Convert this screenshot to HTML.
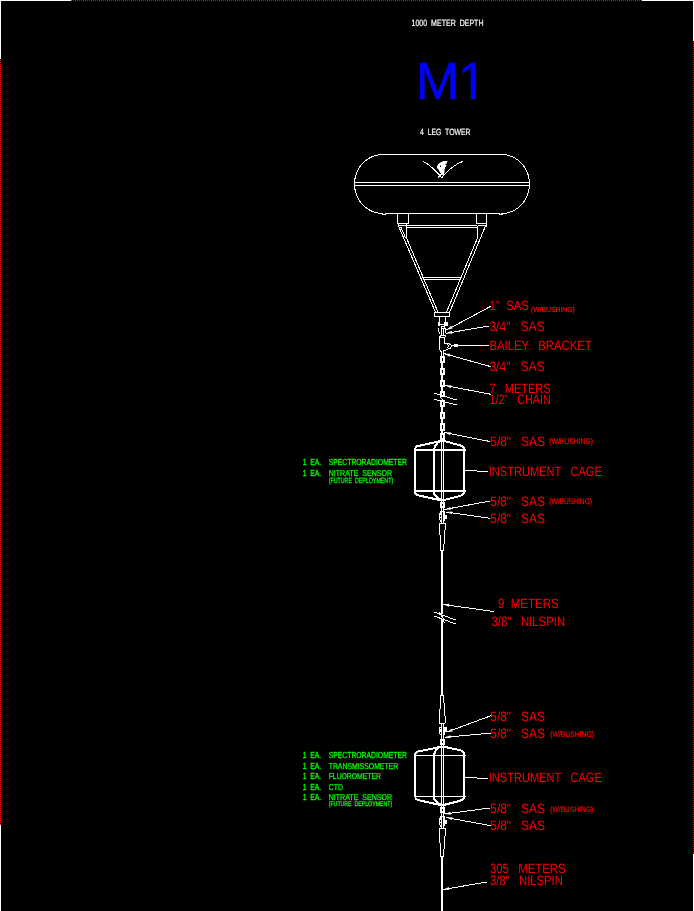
<!DOCTYPE html>
<html lang="en"><head><meta charset="utf-8"><title>M1 mooring diagram</title>
<style>html,body{margin:0;padding:0;background:#000;overflow:hidden}svg{display:block}text{white-space:pre}</style></head>
<body>
<svg width="694" height="911" viewBox="0 0 694 911">
<defs><filter id="nf" x="0" y="0" width="694" height="911" filterUnits="userSpaceOnUse"><feOffset dx="0" dy="0"/></filter></defs>
<rect width="694" height="911" fill="#000"/>
<g shape-rendering="crispEdges">
<rect x="0" y="0" width="71" height="1" fill="#fff" stroke="none"/>
<rect x="642" y="0" width="52" height="1" fill="#fff" stroke="none"/>
<rect x="0" y="0" width="1" height="59" fill="#fff" stroke="none"/>
<rect x="0" y="825" width="1" height="86" fill="#fff" stroke="none"/>
<rect x="693" y="0" width="1" height="41" fill="#fff" stroke="none"/>
<rect x="693" y="854" width="1" height="57" fill="#fff" stroke="none"/>
<line x1="71" y1="0.5" x2="642" y2="0.5" stroke="#f00" stroke-width="1" stroke-dasharray="1 1"/>
<line x1="0.5" y1="60" x2="0.5" y2="825" stroke="#f00" stroke-width="1" stroke-dasharray="1 1"/>
<line x1="693.5" y1="42" x2="693.5" y2="853" stroke="#f00" stroke-width="1" stroke-dasharray="1 1"/>
</g>
<g shape-rendering="crispEdges" stroke-linecap="butt" fill="none">
<path d="M383.0,154.5 L380.52,154.61 L378.05,154.95 L375.62,155.51 L373.25,156.28 L370.96,157.26 L368.75,158.45 L366.65,159.84 L364.68,161.4 L362.85,163.14 L361.17,165.04 L359.65,167.08 L358.32,169.25 L357.17,171.53 L356.22,173.91 L355.47,176.36 L354.93,178.88 L354.61,181.43 L354.5,184.0 L354.61,186.57 L354.93,189.12 L355.47,191.64 L356.22,194.09 L357.17,196.47 L358.32,198.75 L359.65,200.92 L361.17,202.96 L362.85,204.86 L364.68,206.6 L366.65,208.16 L368.75,209.55 L370.96,210.74 L373.25,211.72 L375.62,212.49 L378.05,213.05 L380.52,213.39 L383.0,213.5" stroke="#fff" stroke-width="1" fill="none" />
<path d="M501.5,154.5 L503.94,154.61 L506.36,154.95 L508.75,155.51 L511.08,156.28 L513.33,157.26 L515.5,158.45 L517.56,159.84 L519.5,161.4 L521.3,163.14 L522.95,165.04 L524.44,167.08 L525.75,169.25 L526.88,171.53 L527.81,173.91 L528.55,176.36 L529.07,178.88 L529.39,181.43 L529.5,184.0 L529.39,186.57 L529.07,189.12 L528.55,191.64 L527.81,194.09 L526.88,196.47 L525.75,198.75 L524.44,200.92 L522.95,202.96 L521.3,204.86 L519.5,206.6 L517.56,208.16 L515.5,209.55 L513.33,210.74 L511.08,211.72 L508.75,212.49 L506.36,213.05 L503.94,213.39 L501.5,213.5" stroke="#fff" stroke-width="1" fill="none" />
<line x1="382" y1="154.5" x2="503" y2="154.5" stroke="#fff" stroke-width="1" />
<line x1="385" y1="213.5" x2="500" y2="213.5" stroke="#fff" stroke-width="1" />
<line x1="382" y1="214.5" x2="386" y2="214.5" stroke="#fff" stroke-width="1" />
<line x1="499" y1="214.5" x2="503" y2="214.5" stroke="#fff" stroke-width="1" />
<line x1="354" y1="182.5" x2="530" y2="182.5" stroke="#fff" stroke-width="1" />
<line x1="354" y1="185.5" x2="530" y2="185.5" stroke="#fff" stroke-width="1" />
<path d="M423,161.3 Q431.5,165.5 441.6,177.6" stroke="#fff" stroke-width="1" fill="none" />
<path d="M462.8,161.4 Q452,165.3 441.8,177.6" stroke="#fff" stroke-width="1" fill="none" />
<path d="M437.8,177.6 L441.2,174.2" stroke="#fff" stroke-width="1" fill="none" />
<path d="M440.1,163 L443.5,161.2 L447.2,161 L446.5,163 L445.3,164.3 L446.3,166 L444.8,167 L444.4,170 L444,173.3 L443.1,175.6 L440.9,173.3 L439.2,170.3 L437.3,167.7 L437.6,165.1 Z M439.9,165.3 L441.2,165.3 L441,167.3 L439.7,167.3 Z" stroke="#fff" stroke-width="0.5" fill="#fff" fill-rule="evenodd"/>
<rect x="397.5" y="213.5" width="11" height="10" stroke="#fff" stroke-width="1" fill="none"/>
<rect x="476.5" y="213.5" width="10" height="10" stroke="#fff" stroke-width="1" fill="none"/>
<path d="M398.5,223.5 L398.5,227 M406.5,223.5 L406.5,237.5 M399,225.5 L406,225.5" stroke="#fff" stroke-width="1" fill="none" />
<path d="M486.5,223.5 L486.5,226.5 M477.5,225.5 L477.5,238.5 M478,225.5 L486,225.5" stroke="#fff" stroke-width="1" fill="none" />
<line x1="407" y1="225.5" x2="477" y2="225.5" stroke="#fff" stroke-width="1" />
<line x1="407" y1="227.5" x2="477" y2="227.5" stroke="#fff" stroke-width="1" />
<path d="M398.5,226 L435.4,312 M406.5,238 L437.9,312 M400.8,227 L405.6,238" stroke="#fff" stroke-width="1" fill="none" />
<path d="M485.5,226 L449.7,312 M477.5,238 L446.6,312" stroke="#fff" stroke-width="1" fill="none" />
<line x1="422" y1="277.5" x2="462" y2="277.5" stroke="#fff" stroke-width="1" />
<line x1="423" y1="279.5" x2="461" y2="279.5" stroke="#fff" stroke-width="1" />
<rect x="434.5" y="312.5" width="15" height="4" stroke="#fff" stroke-width="1" fill="none"/>
<path d="M439.5,316.5 L439.5,322.5 M445.5,316.5 L445.5,322.5" stroke="#fff" stroke-width="1" fill="none" />
</g>
<g shape-rendering="crispEdges" stroke-linecap="butt" fill="none">
<rect x="438" y="322" width="2" height="4" fill="#fff" stroke="none"/>
<rect x="444" y="322" width="4" height="4" fill="#fff" stroke="none"/>
<line x1="440" y1="324.5" x2="444" y2="324.5" stroke="#fff" stroke-width="1" />
<path d="M441.5,326.5 L445,326.5 M441.5,326 L441.5,329 M444.5,326 L444.5,329 M442,328.5 L444,328.5" stroke="#fff" stroke-width="1" fill="none" />
<path d="M438.5,328 L438.5,331 L440,333.5" stroke="#fff" stroke-width="1" fill="none" />
<path d="M441.5,329 L441.5,335 M443.5,329 L443.5,335" stroke="#fff" stroke-width="1" fill="none" />
<path d="M445.5,328 L445.5,333" stroke="#fff" stroke-width="1" fill="none" />
<path d="M439.5,349.5 L439.5,337 L441,335.5 L445,335.5 L446,336.5 M440,337.5 L444.5,337.5 L444.5,343.5 L449,343.5 L451.5,345.5 L450.5,348 L446,350 L443.5,351 M439.5,349.5 L441,351.5 M447.5,344 L448.5,346 L447.5,348" stroke="#fff" stroke-width="1" fill="none" />
<path d="M441.5,351 L441.5,356 M443.5,351 L443.5,356" stroke="#fff" stroke-width="1" fill="none" />
<rect x="440" y="356" width="5" height="7" fill="#fff" stroke="none"/>
<rect x="442" y="358" width="1" height="3" fill="#000" stroke="none"/>
<rect x="441" y="363" width="2" height="5" fill="#fff" stroke="none"/>
<rect x="440" y="368" width="5" height="7" fill="#fff" stroke="none"/>
<rect x="442" y="370" width="1" height="3" fill="#000" stroke="none"/>
<rect x="441" y="375" width="2" height="5" fill="#fff" stroke="none"/>
<rect x="440" y="380" width="5" height="7" fill="#fff" stroke="none"/>
<rect x="442" y="382" width="1" height="3" fill="#000" stroke="none"/>
<rect x="441" y="387" width="2" height="5" fill="#fff" stroke="none"/>
<rect x="440" y="391" width="5" height="6" fill="#fff" stroke="none"/>
<rect x="442" y="393" width="1" height="2" fill="#000" stroke="none"/>
<path d="M440.5,397.5 L443.5,401" stroke="#fff" stroke-width="1" fill="none" />
<rect x="440" y="400" width="5" height="7" fill="#fff" stroke="none"/>
<rect x="442" y="402" width="1" height="3" fill="#000" stroke="none"/>
<rect x="441" y="407" width="2" height="5" fill="#fff" stroke="none"/>
<rect x="440" y="412" width="5" height="7" fill="#fff" stroke="none"/>
<rect x="442" y="414" width="1" height="3" fill="#000" stroke="none"/>
<rect x="441" y="419" width="2" height="4" fill="#fff" stroke="none"/>
<rect x="440" y="423" width="5" height="8" fill="#fff" stroke="none"/>
<rect x="442" y="425" width="1" height="4" fill="#000" stroke="none"/>
<rect x="441" y="431" width="2" height="2" fill="#fff" stroke="none"/>
<rect x="440" y="433" width="5" height="7" fill="#fff" stroke="none"/>
<rect x="442" y="435" width="1" height="3" fill="#000" stroke="none"/>
<line x1="434.5" y1="393.3" x2="456.5" y2="400" stroke="#fff" stroke-width="1" />
<line x1="434.5" y1="399.4" x2="456.5" y2="405" stroke="#fff" stroke-width="1" />
</g>
<g shape-rendering="crispEdges" fill="none">
<rect x="414" y="448" width="2" height="45" fill="#fff" stroke="none"/>
<rect x="463" y="448" width="2" height="45" fill="#fff" stroke="none"/>
<rect x="414" y="449" width="52" height="2" fill="#fff" stroke="none"/>
<rect x="414" y="490" width="52" height="2" fill="#fff" stroke="none"/>
<rect x="433" y="449" width="2" height="45" fill="#fff" stroke="none"/>
<path d="M415,448.5 L417,446.3 L440,441.2 L442.5,440.8 L445,441.2 L461.5,445.8 L463.5,447 L464.3,449" stroke="#fff" stroke-width="2" fill="none" />
<path d="M434,449 L435.5,445.5 L438,442.5 L441,441" stroke="#fff" stroke-width="2" fill="none" />
<path d="M415,492.5 L416.2,494.3 L418,495.2 L430,498 L438,499.6 L442.5,500.4 L446,499.6 L459.5,496.2 L462.5,494.8 L464.3,492.5" stroke="#fff" stroke-width="2" fill="none" />
<path d="M434,494 L435,495.5 L438,498 L441,499.8" stroke="#fff" stroke-width="2" fill="none" />
</g>
<g shape-rendering="crispEdges" fill="none">
<rect x="414" y="754" width="2" height="43" fill="#fff" stroke="none"/>
<rect x="463" y="754" width="2" height="43" fill="#fff" stroke="none"/>
<rect x="414" y="755" width="52" height="1" fill="#fff" stroke="none"/>
<rect x="414" y="796" width="52" height="1" fill="#fff" stroke="none"/>
<rect x="433" y="754" width="2" height="45" fill="#fff" stroke="none"/>
<path d="M415,754.5 L416,752.6 L417.5,751.6 L440,747.0 L442.5,746.6 L445,747.0 L460,750.1 L462.5,751.4 L464,753.2 L464.3,755.0" stroke="#fff" stroke-width="2" fill="none" />
<path d="M434,754.5 L435.5,751.0 L438,748.0 L441,746.5" stroke="#fff" stroke-width="2" fill="none" />
<path d="M415,797.3 L416.2,799.1 L418,800.0 L430,802.8 L438,804.4000000000001 L442.5,805.2 L446,804.4000000000001 L459.5,801.0 L462.5,799.6 L464.3,797.3" stroke="#fff" stroke-width="2" fill="none" />
<path d="M434,798.8 L435,800.3 L438,802.8 L441,804.6" stroke="#fff" stroke-width="2" fill="none" />
</g>
<g shape-rendering="crispEdges" fill="none" stroke-linecap="butt">
<rect x="441" y="439" width="2" height="1" fill="#fff" stroke="none"/>
<path d="M441.5,440 L441.5,523 M443.5,440 L443.5,523" stroke="#fff" stroke-width="1" fill="none" />
<rect x="440" y="502" width="5" height="6" fill="#fff" stroke="none"/>
<rect x="442" y="504" width="1" height="2" fill="#000" stroke="none"/>
<path d="M440,511.5 L445,511.5 M439.5,513 L439.5,520 M440.5,512 L440.5,515 M440,520.5 L441,521.5 M444.5,512 L444.5,521" stroke="#fff" stroke-width="1" fill="none" />
<rect x="445" y="515" width="2" height="4" fill="#fff" stroke="none"/>
<rect x="440" y="517" width="1" height="1" fill="#fff" stroke="none"/>
<path d="M439,523.5 H446 M439.5,523 V535 M440.5,535 V551 M445.5,523 V530 M444.5,530 V544 M443.5,544 V551 M440,550.5 H444" stroke="#fff" stroke-width="1" fill="none" />
<rect x="441" y="551" width="2" height="63" fill="#fff" stroke="none"/>
<rect x="441" y="619" width="2" height="77" fill="#fff" stroke="none"/>
<line x1="434.5" y1="612.2" x2="455.5" y2="619.9" stroke="#fff" stroke-width="1" />
<line x1="434.5" y1="616.2" x2="455.5" y2="623.9" stroke="#fff" stroke-width="1" />
<path d="M439.3,611.8 L443.8,619.6 M443.5,620 L444.5,623.5" stroke="#fff" stroke-width="1" fill="none" />
<path d="M440,695.5 H444 M440.5,695 V709 M439.5,709 V724 M443.5,695 V703 M444.5,703 V716 M445.5,716 V723 M439,723.5 H445" stroke="#fff" stroke-width="1" fill="none" />
<path d="M441.5,724 L441.5,828 M443.5,724 L443.5,828" stroke="#fff" stroke-width="1" fill="none" />
<path d="M439.5,727 L439.5,734 M440.5,734 L441.5,735.5 M440,727.5 L441,727.5 M444.5,727 L444.5,735" stroke="#fff" stroke-width="1" fill="none" />
<rect x="444" y="727" width="3" height="5" fill="#fff" stroke="none"/>
<rect x="440" y="729" width="1" height="3" fill="#fff" stroke="none"/>
<rect x="440" y="739" width="5" height="6" fill="#fff" stroke="none"/>
<rect x="442" y="741" width="1" height="2" fill="#000" stroke="none"/>
<rect x="440" y="807" width="5" height="6" fill="#fff" stroke="none"/>
<rect x="442" y="809" width="1" height="2" fill="#000" stroke="none"/>
<path d="M440,816.5 L445,816.5 M439.5,818 L439.5,825 M440.5,817 L440.5,820 M440,825.5 L441,826.5 M444.5,817 L444.5,826" stroke="#fff" stroke-width="1" fill="none" />
<rect x="445" y="820" width="2" height="4" fill="#fff" stroke="none"/>
<rect x="440" y="822" width="1" height="1" fill="#fff" stroke="none"/>
<path d="M439,828.5 H446 M439.5,828 V843 M440.5,843 V857 M445.5,828 V836 M444.5,836 V849 M443.5,849 V857 M440,856.5 H444" stroke="#fff" stroke-width="1" fill="none" />
<rect x="441" y="857" width="2" height="54" fill="#fff" stroke="none"/>
</g>
<g fill="none" stroke="#fff" stroke-width="1" shape-rendering="crispEdges">
<line x1="446.5" y1="330" x2="491" y2="306.2" stroke="#fff" stroke-width="1" />
<path d="M446.94,329.76 L452.67,328.40 L451.26,325.75 Z" fill="#fff" stroke="none" shape-rendering="geometricPrecision"/>
<line x1="446" y1="333.3" x2="489" y2="326" stroke="#fff" stroke-width="1" />
<path d="M446.49,333.22 L452.36,333.74 L451.86,330.78 Z" fill="#fff" stroke="none" shape-rendering="geometricPrecision"/>
<line x1="451.5" y1="345.5" x2="489" y2="345.5" stroke="#fff" stroke-width="1" />
<rect x="454" y="344" width="4" height="3" fill="#fff" stroke="none"/>
<line x1="444" y1="353.6" x2="491" y2="366.7" stroke="#fff" stroke-width="1" />
<path d="M444.48,353.73 L449.57,356.71 L450.38,353.82 Z" fill="#fff" stroke="none" shape-rendering="geometricPrecision"/>
<line x1="445" y1="385.5" x2="491" y2="394.3" stroke="#fff" stroke-width="1" />
<path d="M445.49,385.59 L450.81,388.14 L451.37,385.19 Z" fill="#fff" stroke="none" shape-rendering="geometricPrecision"/>
<line x1="444.5" y1="432.5" x2="490" y2="441.5" stroke="#fff" stroke-width="1" />
<path d="M444.99,432.60 L450.29,435.17 L450.87,432.23 Z" fill="#fff" stroke="none" shape-rendering="geometricPrecision"/>
<line x1="465" y1="470.5" x2="488" y2="471.5" stroke="#fff" stroke-width="1" />
<line x1="444.5" y1="509.5" x2="490" y2="501" stroke="#fff" stroke-width="1" />
<path d="M444.99,509.41 L450.87,509.84 L450.32,506.89 Z" fill="#fff" stroke="none" shape-rendering="geometricPrecision"/>
<line x1="446" y1="512" x2="490.5" y2="518.4" stroke="#fff" stroke-width="1" />
<path d="M446.49,512.07 L451.92,514.37 L452.35,511.40 Z" fill="#fff" stroke="none" shape-rendering="geometricPrecision"/>
<line x1="443" y1="604.5" x2="494" y2="611.5" stroke="#fff" stroke-width="1" />
<path d="M443.50,604.57 L448.94,606.83 L449.35,603.86 Z" fill="#fff" stroke="none" shape-rendering="geometricPrecision"/>
<line x1="446.5" y1="732.2" x2="490.7" y2="715.8" stroke="#fff" stroke-width="1" />
<path d="M446.97,732.03 L452.83,731.45 L451.79,728.64 Z" fill="#fff" stroke="none" shape-rendering="geometricPrecision"/>
<line x1="444.5" y1="737.4" x2="490.7" y2="733.1" stroke="#fff" stroke-width="1" />
<path d="M445.00,737.35 L450.81,738.32 L450.53,735.33 Z" fill="#fff" stroke="none" shape-rendering="geometricPrecision"/>
<line x1="465" y1="777.5" x2="488" y2="778.5" stroke="#fff" stroke-width="1" />
<line x1="444.5" y1="814" x2="490" y2="808" stroke="#fff" stroke-width="1" />
<path d="M445.00,813.93 L450.84,814.68 L450.45,811.70 Z" fill="#fff" stroke="none" shape-rendering="geometricPrecision"/>
<line x1="446" y1="817.5" x2="490.5" y2="825.6" stroke="#fff" stroke-width="1" />
<path d="M446.49,817.59 L451.83,820.09 L452.37,817.13 Z" fill="#fff" stroke="none" shape-rendering="geometricPrecision"/>
<line x1="443" y1="889.5" x2="487" y2="882" stroke="#fff" stroke-width="1" />
<path d="M443.49,889.42 L449.36,889.94 L448.86,886.98 Z" fill="#fff" stroke="none" shape-rendering="geometricPrecision"/>
</g>
<g font-family="'Liberation Sans', Arial, sans-serif" text-rendering="geometricPrecision" filter="url(#nf)">
<text x="411.5" y="26" font-size="9.01" fill="#fff" textLength="72" lengthAdjust="spacingAndGlyphs" stroke="#fff" stroke-width="0.2">1000  METER  DEPTH</text>
<text x="420" y="135" font-size="9.01" fill="#fff" textLength="50.5" lengthAdjust="spacingAndGlyphs" stroke="#fff" stroke-width="0.2">4  LEG  TOWER</text>
<text x="415.7" y="99" font-size="52.4" fill="#00f" stroke="#00f" stroke-width="0.3">M<tspan dx="-1.6">1</tspan></text>
<rect x="458" y="92" width="12.92" height="8" fill="#000" stroke="none"/>
<rect x="475.54" y="92" width="12" height="8" fill="#000" stroke="none"/>
<text x="302.7" y="465" font-size="8.72" fill="#0f0" textLength="18.5" lengthAdjust="spacingAndGlyphs" stroke="#0f0" stroke-width="0.3">1  EA.</text>
<text x="328.7" y="465" font-size="8.72" fill="#0f0" textLength="78.3" lengthAdjust="spacingAndGlyphs" stroke="#0f0" stroke-width="0.3">SPECTRORADIOMETER</text>
<text x="302.7" y="475.5" font-size="8.72" fill="#0f0" textLength="18.5" lengthAdjust="spacingAndGlyphs" stroke="#0f0" stroke-width="0.3">1  EA.</text>
<text x="328.7" y="475.5" font-size="8.43" fill="#0f0" textLength="63.5" lengthAdjust="spacingAndGlyphs" stroke="#0f0" stroke-width="0.3">NITRATE  SENSOR</text>
<text x="328.7" y="482.5" font-size="7.56" fill="#0f0" textLength="64.5" lengthAdjust="spacingAndGlyphs" stroke="#0f0" stroke-width="0.3">(FUTURE  DEPLOYMENT)</text>
<text x="302.7" y="758" font-size="8.72" fill="#0f0" textLength="18.5" lengthAdjust="spacingAndGlyphs" stroke="#0f0" stroke-width="0.3">1  EA.</text>
<text x="328.7" y="758" font-size="8.72" fill="#0f0" textLength="78.3" lengthAdjust="spacingAndGlyphs" stroke="#0f0" stroke-width="0.3">SPECTRORADIOMETER</text>
<text x="302.7" y="768.5" font-size="8.72" fill="#0f0" textLength="18.5" lengthAdjust="spacingAndGlyphs" stroke="#0f0" stroke-width="0.3">1  EA.</text>
<text x="328.7" y="768.5" font-size="8.43" fill="#0f0" textLength="69.5" lengthAdjust="spacingAndGlyphs" stroke="#0f0" stroke-width="0.3">TRANSMISSOMETER</text>
<text x="302.7" y="779" font-size="8.72" fill="#0f0" textLength="18.5" lengthAdjust="spacingAndGlyphs" stroke="#0f0" stroke-width="0.3">1  EA.</text>
<text x="328.7" y="779" font-size="8.43" fill="#0f0" textLength="52.2" lengthAdjust="spacingAndGlyphs" stroke="#0f0" stroke-width="0.3">FLUOROMETER</text>
<text x="302.7" y="789.7" font-size="8.72" fill="#0f0" textLength="18.5" lengthAdjust="spacingAndGlyphs" stroke="#0f0" stroke-width="0.3">1  EA.</text>
<text x="328.7" y="789.7" font-size="8.43" fill="#0f0" textLength="14.2" lengthAdjust="spacingAndGlyphs" stroke="#0f0" stroke-width="0.3">CTD</text>
<text x="302.7" y="800.2" font-size="8.72" fill="#0f0" textLength="18.5" lengthAdjust="spacingAndGlyphs" stroke="#0f0" stroke-width="0.3">1  EA.</text>
<text x="328.7" y="800.2" font-size="8.43" fill="#0f0" textLength="63.5" lengthAdjust="spacingAndGlyphs" stroke="#0f0" stroke-width="0.3">NITRATE  SENSOR</text>
<text x="328.7" y="806" font-size="6.69" fill="#0f0" textLength="63.5" lengthAdjust="spacingAndGlyphs" stroke="#0f0" stroke-width="0.3">(FUTURE  DEPLOYMENT)</text>
<text x="489.59999999999997" y="310.2" font-size="13.52" fill="#f00" textLength="39.3" lengthAdjust="spacingAndGlyphs">1&quot;  SAS</text>
<text x="531" y="311.8" font-size="7.12" fill="#f00" textLength="43.7" lengthAdjust="spacingAndGlyphs" stroke="#f00" stroke-width="0.2">(W/BUSHING)</text>
<text x="489.4" y="331" font-size="13.52" fill="#f00" textLength="55.3" lengthAdjust="spacingAndGlyphs">3/4&quot;   SAS</text>
<text x="489.4" y="350.2" font-size="13.52" fill="#f00" textLength="102.3" lengthAdjust="spacingAndGlyphs">BAILEY   BRACKET</text>
<text x="489.4" y="371" font-size="13.52" fill="#f00" textLength="55.3" lengthAdjust="spacingAndGlyphs">3/4&quot;   SAS</text>
<text x="489.4" y="392.7" font-size="13.52" fill="#f00" textLength="61.3" lengthAdjust="spacingAndGlyphs">7   METERS</text>
<text x="489.4" y="404.1" font-size="13.52" fill="#f00" textLength="61.3" lengthAdjust="spacingAndGlyphs">1/2&quot;   CHAIN</text>
<text x="490.29999999999995" y="446" font-size="13.52" fill="#f00" textLength="54.599999999999994" lengthAdjust="spacingAndGlyphs">5/8&quot;   SAS</text>
<text x="549.3" y="443.7" font-size="8.14" fill="#f00" textLength="43.7" lengthAdjust="spacingAndGlyphs" stroke="#f00" stroke-width="0.2">(W/BUSHING)</text>
<text x="488.79999999999995" y="476" font-size="13.52" fill="#f00" textLength="113.0" lengthAdjust="spacingAndGlyphs">INSTRUMENT   CAGE</text>
<text x="490.29999999999995" y="505.9" font-size="13.52" fill="#f00" textLength="54.599999999999994" lengthAdjust="spacingAndGlyphs">5/8&quot;   SAS</text>
<text x="549.3" y="503.7" font-size="7.85" fill="#f00" textLength="42.7" lengthAdjust="spacingAndGlyphs" stroke="#f00" stroke-width="0.2">(W/BUSHING)</text>
<text x="490.29999999999995" y="523" font-size="13.52" fill="#f00" textLength="54.599999999999994" lengthAdjust="spacingAndGlyphs">5/8&quot;   SAS</text>
<text x="497.9" y="608.2" font-size="13.52" fill="#f00" textLength="60.8" lengthAdjust="spacingAndGlyphs">9  METERS</text>
<text x="491.5" y="626" font-size="13.52" fill="#f00" textLength="73.7" lengthAdjust="spacingAndGlyphs">3/8&quot;   NILSPIN</text>
<text x="490.29999999999995" y="721" font-size="13.52" fill="#f00" textLength="54.599999999999994" lengthAdjust="spacingAndGlyphs">5/8&quot;   SAS</text>
<text x="490.29999999999995" y="738" font-size="13.52" fill="#f00" textLength="54.599999999999994" lengthAdjust="spacingAndGlyphs">5/8&quot;   SAS</text>
<text x="550.3" y="736.5" font-size="8.14" fill="#f00" textLength="43.6" lengthAdjust="spacingAndGlyphs" stroke="#f00" stroke-width="0.2">(W/BUSHING)</text>
<text x="488.79999999999995" y="781.9" font-size="13.52" fill="#f00" textLength="113.0" lengthAdjust="spacingAndGlyphs">INSTRUMENT   CAGE</text>
<text x="490.29999999999995" y="813" font-size="13.52" fill="#f00" textLength="54.599999999999994" lengthAdjust="spacingAndGlyphs">5/8&quot;   SAS</text>
<text x="550.3" y="811.8" font-size="7.85" fill="#f00" textLength="43" lengthAdjust="spacingAndGlyphs" stroke="#f00" stroke-width="0.2">(W/BUSHING)</text>
<text x="490.29999999999995" y="829.8" font-size="13.52" fill="#f00" textLength="54.599999999999994" lengthAdjust="spacingAndGlyphs">5/8&quot;   SAS</text>
<text x="490.0" y="872.9" font-size="13.52" fill="#f00" textLength="75.6" lengthAdjust="spacingAndGlyphs">305   METERS</text>
<text x="490.0" y="885.2" font-size="13.52" fill="#f00" textLength="72.8" lengthAdjust="spacingAndGlyphs">3/8&quot;   NILSPIN</text>
</g>
</svg>
</body></html>
